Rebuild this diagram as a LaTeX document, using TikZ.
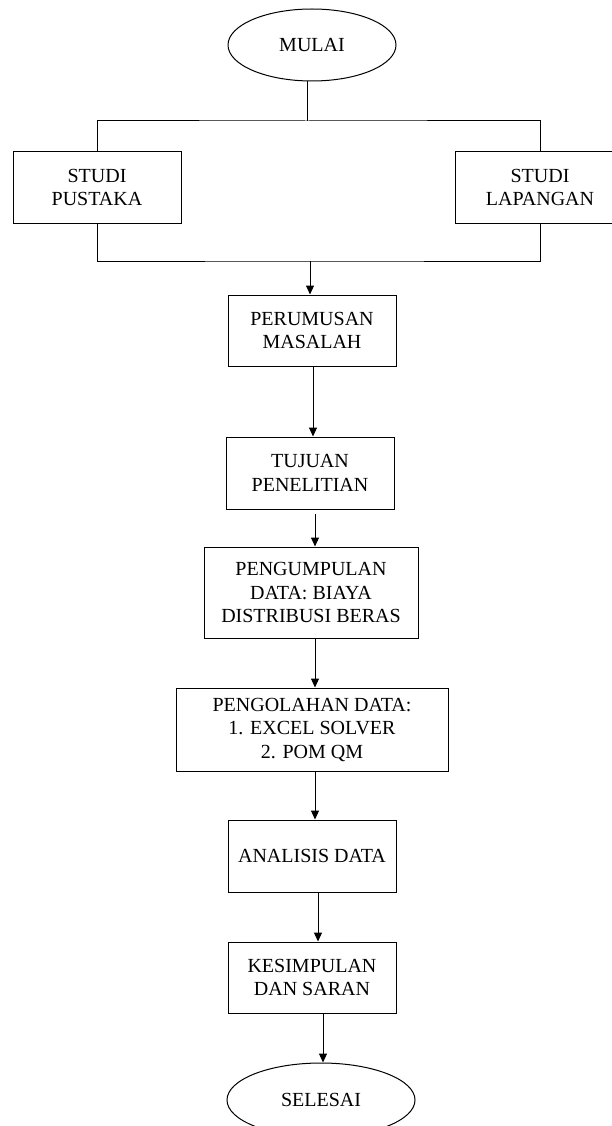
\documentclass[tikz,border=0pt]{standalone}
\usepackage{fontspec}
\setmainfont{Liberation Serif}
\usetikzlibrary{arrows.meta,shapes.geometric,calc}
\begin{document}
\begin{tikzpicture}[x=1pt,y=-1pt,
  line width=1pt,
  every node/.style={font=\fontsize{20}{23.5}\selectfont, align=center, inner sep=0pt},
  stepbox/.style={draw, rectangle},
  term/.style={draw, ellipse},
  arr/.style={-{Triangle[length=9pt,width=8pt]}}]
\useasboundingbox (0,0) rectangle (612,1126);
\begin{scope}
\clip (0,0) rectangle (612,1126);
\node[term, minimum width=168pt, minimum height=72pt] (mulai) at (312,45) {MULAI};
\node[stepbox, minimum width=168pt, minimum height=71pt] (pus) at (97,187.5) {STUDI\\PUSTAKA};
\node[stepbox, minimum width=170pt, minimum height=71pt] (lap) at (540,187.5) {STUDI\\LAPANGAN};
\node[stepbox, minimum width=168pt, minimum height=71pt] (per) at (312,330.5) {PERUMUSAN\\MASALAH};
\node[stepbox, minimum width=168pt, minimum height=72pt] (tuj) at (310,473) {TUJUAN\\PENELITIAN};
\node[stepbox, minimum width=214pt, minimum height=91pt] (pgp) at (311,592.5) {PENGUMPULAN\\DATA: BIAYA\\DISTRIBUSI BERAS};
\node[stepbox, minimum width=272pt, minimum height=83pt] (pgl) at (312,729.5) {PENGOLAHAN DATA:\\1. EXCEL SOLVER\\2. POM QM};
\node[stepbox, minimum width=168pt, minimum height=72pt] (ana) at (312,856) {ANALISIS DATA};
\node[stepbox, minimum width=168pt, minimum height=71pt] (kes) at (312,977.5) {KESIMPULAN\\DAN SARAN};
\node[term, minimum width=188pt, minimum height=74pt] (sel) at (321,1100) {SELESAI};

\coordinate (j1) at (307,121);
\coordinate (j2) at (310,261);
\draw (j1 |- mulai.south) -- (j1);
\draw (pus.north) |- (j1) -| (lap.north);
\draw (pus.south) |- (j2) -| (lap.south);
\draw[arr] (j2) -- (j2 |- per.north);

\coordinate (a1) at ($(per.south)+(1,0)$);
\draw[arr] (a1) -- (a1 |- tuj.north);
\coordinate (a2) at ($(tuj.south)+(5,4)$);
\draw[arr] (a2) -- (a2 |- pgp.north);
\coordinate (a3) at ($(pgp.south)+(4,0)$);
\draw[arr] (a3) -- (a3 |- pgl.north);
\coordinate (a4) at ($(pgl.south)+(3,0)$);
\draw[arr] (a4) -- (a4 |- ana.north);
\coordinate (a5) at ($(ana.south)+(6,0)$);
\draw[arr] (a5) -- (a5 |- kes.north);
\coordinate (a6) at ($(kes.south)+(11,0)$);
\draw[arr] (a6) -- (a6 |- sel.north);
\end{scope}
\end{tikzpicture}
\end{document}
